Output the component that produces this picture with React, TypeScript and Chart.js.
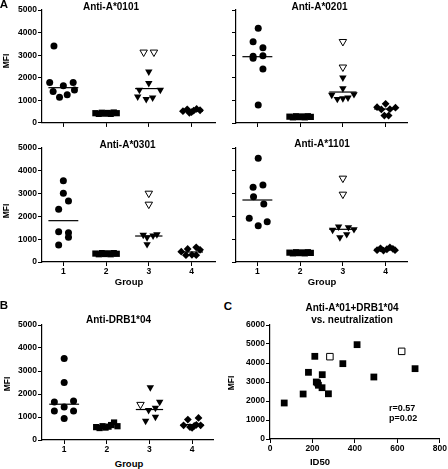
import React, { useEffect, useRef } from "react";
import { Chart, registerables } from "chart.js";

Chart.register(...registerables);

type Pt = [number, number]; // [offset from group centre, MFI]

const FONT = "'Liberation Sans', Arial, Helvetica, sans-serif";

// ---------- shared axis data ----------
const groups = [1, 2, 3, 4];
const mfiTicksMax = 5000;
const mfiStep = 1000;

// ---------- Panel A: Anti-A*0101 ----------
const a0101Group1: Pt[] = [[-0.22, 3410], [-0.32, 1790], [0, 1640], [0.23, 1790], [-0.24, 1390], [0.26, 1460], [-0.09, 1140], [0.09, 1250]];
const a0101Group2: Pt[] = [[-0.25, 430], [-0.17, 400], [-0.1, 450], [-0.03, 410], [0.04, 440], [0.11, 400], [0.18, 460], [0.25, 430]];
const a0101Group3: Pt[] = [[0, 2270], [0, 1755], [-0.22, 1460], [0.27, 1460], [-0.26, 1165], [-0.06, 1050], [0.09, 1120]];
const a0101Group3Open: Pt[] = [[-0.12, 3130], [0.12, 3130]];
const a0101Group4: Pt[] = [[-0.2, 520], [-0.1, 600], [-0.05, 450], [0.05, 540], [0.12, 620], [0.2, 560], [0, 480]];
const a0101Medians = [1560, 420, 1520, 520];

// ---------- Panel A: Anti-A*0201 ----------
const a0201Group1: Pt[] = [[0.02, 4190], [-0.1, 3600], [0.13, 3330], [-0.1, 2860], [-0.1, 2950], [0.13, 2980], [0.13, 2390], [0.02, 800]];
const a0201Group2: Pt[] = [[-0.25, 280], [-0.17, 250], [-0.1, 300], [-0.03, 260], [0.04, 290], [0.11, 250], [0.18, 300], [0.25, 270]];
const a0201Group3: Pt[] = [[0, 2006], [0, 1534], [-0.26, 1240], [-0.13, 1060], [0, 1090], [0.12, 1120], [0.26, 1270]];
const a0201Group3Open: Pt[] = [[0, 3600], [0, 2470]];
const a0201Group4: Pt[] = [[-0.2, 700], [0, 850], [0.23, 680], [-0.1, 600], [0.1, 610], [-0.03, 330], [0.07, 330]];
const a0201Medians = [2934, 270, 1370, 620];

// ---------- Panel A: Anti-A*0301 ----------
const a0301Group1: Pt[] = [[0, 3566], [0, 3010], [0.12, 2675], [-0.11, 2310], [-0.11, 1330], [0.12, 1287], [0.12, 1082], [-0.11, 746]];
const a0301Group2: Pt[] = [[-0.25, 370], [-0.17, 340], [-0.1, 390], [-0.03, 350], [0.04, 380], [0.11, 340], [0.18, 390], [0.25, 360]];
const a0301Group3: Pt[] = [[-0.13, 1184], [-0.04, 1082], [0.1, 1155], [0.19, 1213], [-0.04, 776]];
const a0301Group3Open: Pt[] = [[0, 3012], [0, 2530]];
const a0301Group4: Pt[] = [[-0.24, 452], [-0.09, 570], [0.01, 316], [0.11, 645], [0.2, 535], [-0.13, 300], [0.11, 300]];
const a0301Medians = [1813, 365, 1140, 439];

// ---------- Panel A: Anti-A*1101 ----------
const a1101Group1: Pt[] = [[0.02, 4548], [-0.1, 3276], [0.13, 3377], [-0.09, 2864], [0.15, 2544], [-0.19, 1916], [0.23, 1768], [0.02, 1592]];
const a1101Group2: Pt[] = [[-0.25, 410], [-0.17, 380], [-0.1, 430], [-0.03, 390], [0.04, 420], [0.11, 380], [0.18, 430], [0.25, 400]];
const a1101Group3: Pt[] = [[-0.24, 1404], [-0.1, 1548], [0.13, 1522], [0.26, 1434], [-0.07, 1082], [0.09, 1215]];
const a1101Group3Open: Pt[] = [[0, 3671], [0, 2969]];
const a1101Group4: Pt[] = [[-0.2, 520], [-0.12, 600], [-0.05, 500], [0.03, 560], [0.1, 640], [0.17, 580], [0.22, 520]];
const a1101Medians = [2719, 408, 1434, 555];

// ---------- Panel B: Anti-DRB1*04 ----------
const drbGroup1: Pt[] = [[0, 3548], [0, 2502], [-0.23, 1657], [0.22, 1700], [-0.23, 1264], [0, 1439], [0.22, 1264], [0, 933]];
const drbGroup2: Pt[] = [[-0.25, 560], [-0.17, 520], [-0.1, 600], [-0.03, 540], [0.04, 580], [0.1, 650], [0.17, 760], [0.25, 600]];
const drbGroup3: Pt[] = [[0.02, 2284], [0.24, 1657], [0.14, 1395], [-0.02, 1295], [-0.09, 828], [0.14, 1003]];
const drbGroup3Open: Pt[] = [[-0.21, 1543]];
const drbGroup4: Pt[] = [[-0.1, 889], [0.15, 959], [-0.2, 640], [0.05, 610], [-0.05, 560], [0.2, 640], [0.1, 660], [0, 530]];
const drbMedians = [1556, 567, 1325, 671];

// ---------- Panel C: Anti-A*01+DRB1*04 vs. neutralization ----------
const cFilledId50 = [67, 156, 181, 211, 218, 228, 224, 246, 245, 275, 343, 410, 489, 683];
const cFilledMfi = [1895, 2368, 3509, 4351, 3000, 2830, 2950, 3386, 2700, 2380, 3965, 4965, 3263, 3702];
const cOpenId50 = [282, 620];
const cOpenMfi = [4333, 4614];
const cXMax = 800;
const cXStep = 200;
const cYMax = 6000;

// ---------- styles / layout ----------
const medianHalfWidth = [0.35, 0.3, 0.32, 0.27];
const PAD_T = 8;

interface Area { l: number; r: number; t: number; b: number }
interface DotPanel {
  area: Area; xMin: number; xMax: number; yLabels: boolean; xLabels: boolean;
  g1: Pt[]; g2: Pt[]; g3: Pt[]; g3open: Pt[]; g4: Pt[]; medians: number[];
}

const panels: DotPanel[] = [
  { area: { l: 42, r: 215, t: 10, b: 123 }, xMin: 0.5, xMax: 4.55, yLabels: true, xLabels: false,
    g1: a0101Group1, g2: a0101Group2, g3: a0101Group3, g3open: a0101Group3Open, g4: a0101Group4, medians: a0101Medians },
  { area: { l: 236, r: 407, t: 10, b: 123 }, xMin: 0.5, xMax: 4.5, yLabels: false, xLabels: false,
    g1: a0201Group1, g2: a0201Group2, g3: a0201Group3, g3open: a0201Group3Open, g4: a0201Group4, medians: a0201Medians },
  { area: { l: 42, r: 215, t: 148, b: 262 }, xMin: 0.5, xMax: 4.55, yLabels: true, xLabels: true,
    g1: a0301Group1, g2: a0301Group2, g3: a0301Group3, g3open: a0301Group3Open, g4: a0301Group4, medians: a0301Medians },
  { area: { l: 236, r: 407, t: 148, b: 262 }, xMin: 0.5, xMax: 4.5, yLabels: false, xLabels: true,
    g1: a1101Group1, g2: a1101Group2, g3: a1101Group3, g3open: a1101Group3Open, g4: a1101Group4, medians: a1101Medians },
  { area: { l: 42, r: 213, t: 325, b: 440 }, xMin: 0.48, xMax: 4.49, yLabels: true, xLabels: true,
    g1: drbGroup1, g2: drbGroup2, g3: drbGroup3, g3open: drbGroup3Open, g4: drbGroup4, medians: drbMedians },
];

const tickFont = { family: FONT, size: 8.5, weight: "bold" as const };

function axisCommon() {
  return {
    grid: { drawOnChartArea: false, drawTicks: true, tickLength: 4, color: "#000", lineWidth: 1 },
    border: { display: true, color: "#000", width: 1.2 },
  };
}

function geometry(area: Area, yW: number, xH: number, padR: number) {
  const left = area.l - yW;
  const top = area.t - PAD_T;
  return { left, top, w: area.r + padR - left, h: area.b + xH - top };
}

function markerSet(data: { x: number; y: number }[], style: string, radius: number, rotation: number, open: boolean) {
  return {
    data, showLine: false, pointStyle: style, pointRadius: radius, pointHoverRadius: radius, pointRotation: rotation,
    pointBackgroundColor: open ? "#fff" : "#000", pointBorderColor: "#000", pointBorderWidth: open ? 1 : 0,
  };
}

function DotChart({ p }: { p: DotPanel }) {
  const ref = useRef<HTMLCanvasElement | null>(null);
  const yW = p.yLabels ? 42 : 12;
  const xH = p.xLabels ? 16 : 6;
  const g = geometry(p.area, yW, xH, 5);
  useEffect(() => {
    if (!ref.current) return;
    const at = (pts: Pt[], grp: number) => pts.map(([o, v]) => ({ x: grp + o, y: v }));
    const medians = p.medians.map((m, i) => ({
      data: [{ x: groups[i] - medianHalfWidth[i], y: m }, { x: groups[i] + medianHalfWidth[i], y: m }],
      showLine: true, pointRadius: 0, pointHoverRadius: 0, borderColor: "#000", borderWidth: 1.2, fill: false,
    }));
    const chart = new Chart(ref.current, {
      type: "scatter",
      data: {
        datasets: [
          markerSet(at(p.g1, 1), "circle", 3.5, 0, false),
          markerSet(at(p.g2, 2), "rect", 4.4, 0, false),
          markerSet(at(p.g3open, 3), "triangle", 4.3, 180, true),
          markerSet(at(p.g3, 3), "triangle", 4.3, 180, false),
          markerSet(at(p.g4, 4), "rectRot", 3.9, 0, false),
          ...medians,
        ] as any,
      },
      options: {
        animation: false, responsive: false, devicePixelRatio: 1, events: [],
        layout: { autoPadding: false, padding: { top: PAD_T, right: 5, left: 0, bottom: 0 } },
        plugins: { legend: { display: false }, tooltip: { enabled: false }, title: { display: false } },
        scales: {
          x: {
            type: "linear", min: p.xMin, max: p.xMax, ...axisCommon(),
            afterBuildTicks: (s: any) => { s.ticks = groups.map((v) => ({ value: v })); },
            afterFit: (s: any) => { s.height = xH; },
            ticks: { display: p.xLabels, color: "#000", font: tickFont, padding: 1, maxRotation: 0, autoSkip: false, callback: (v: any) => String(v) },
          },
          y: {
            type: "linear", min: 0, max: mfiTicksMax, ...axisCommon(),
            afterFit: (s: any) => { s.width = yW; },
            ticks: { display: p.yLabels, stepSize: mfiStep, color: "#000", font: tickFont, padding: 1, callback: (v: any) => String(v) },
          },
        },
      } as any,
    });
    return () => chart.destroy();
  }, [p]);
  return <canvas ref={ref} width={g.w} height={g.h} style={{ position: "absolute", left: g.left, top: g.top, width: g.w, height: g.h }} />;
}

function CorrChart() {
  const ref = useRef<HTMLCanvasElement | null>(null);
  const area: Area = { l: 270, r: 440, t: 325, b: 439 };
  const g = geometry(area, 42, 16, 8);
  useEffect(() => {
    if (!ref.current) return;
    const filled = cFilledId50.map((x, i) => ({ x, y: cFilledMfi[i] }));
    const open = cOpenId50.map((x, i) => ({ x, y: cOpenMfi[i] }));
    const chart = new Chart(ref.current, {
      type: "scatter",
      data: {
        datasets: [
          markerSet(open, "rect", 4.6, 0, true),
          markerSet(filled, "rect", 4.8, 0, false),
        ] as any,
      },
      options: {
        animation: false, responsive: false, devicePixelRatio: 1, events: [],
        layout: { autoPadding: false, padding: { top: PAD_T, right: 8, left: 0, bottom: 0 } },
        plugins: { legend: { display: false }, tooltip: { enabled: false } },
        scales: {
          x: {
            type: "linear", min: 0, max: cXMax, ...axisCommon(),
            afterFit: (s: any) => { s.height = 16; },
            ticks: { stepSize: cXStep, color: "#000", font: tickFont, padding: 1, maxRotation: 0, callback: (v: any) => String(v) },
          },
          y: {
            type: "linear", min: 0, max: cYMax, ...axisCommon(),
            afterFit: (s: any) => { s.width = 42; },
            ticks: { stepSize: 1000, color: "#000", font: tickFont, padding: 1, callback: (v: any) => String(v) },
          },
        },
      } as any,
    });
    return () => chart.destroy();
  }, []);
  return <canvas ref={ref} width={g.w} height={g.h} style={{ position: "absolute", left: g.left, top: g.top, width: g.w, height: g.h }} />;
}

function Txt({ x, y, size, children, rotate, align }: { x: number; y: number; size: number; children: React.ReactNode; rotate?: boolean; align?: "left" | "center" }) {
  const tx = align === "left" ? "0" : "-50%";
  return (
    <div style={{
      position: "absolute", left: x, top: y, fontFamily: FONT, fontWeight: "bold", fontSize: size, lineHeight: 1,
      whiteSpace: "nowrap", color: "#000", transform: `translate(${tx}, -50%)${rotate ? " rotate(-90deg)" : ""}`,
      transformOrigin: rotate ? "center" : undefined,
    }}>{children}</div>
  );
}

export default function App() {
  return (
    <div style={{ position: "absolute", left: 0, top: 0, width: 448, height: 469, overflow: "hidden", background: "#fff" }}>
      {panels.map((p, i) => <DotChart key={i} p={p} />)}
      <CorrChart />
      <Txt x={4} y={4.5} size={11.5}>A</Txt>
      <Txt x={4} y={306} size={11.5}>B</Txt>
      <Txt x={228} y={307} size={11.5}>C</Txt>
      <Txt x={111} y={6.5} size={10}>Anti-A*0101</Txt>
      <Txt x={319.5} y={6.5} size={10}>Anti-A*0201</Txt>
      <Txt x={127.5} y={145} size={10}>Anti-A*0301</Txt>
      <Txt x={322} y={144.2} size={10}>Anti-A*1101</Txt>
      <Txt x={118.5} y={320} size={10}>Anti-DRB1*04</Txt>
      <Txt x={352} y={307.5} size={10}>Anti-A*01+DRB1*04</Txt>
      <Txt x={352} y={319.5} size={10}>vs. neutralization</Txt>
      <Txt x={6} y={61} size={8.5} rotate>MFI</Txt>
      <Txt x={6} y={211} size={8.5} rotate>MFI</Txt>
      <Txt x={7} y={384} size={8.5} rotate>MFI</Txt>
      <Txt x={231} y={383} size={8.5} rotate>MFI</Txt>
      <Txt x={129} y={282} size={9.5}>Group</Txt>
      <Txt x={322} y={282} size={9.5}>Group</Txt>
      <Txt x={129} y={463.5} size={9.5}>Group</Txt>
      <Txt x={320} y={461.5} size={9.5}>ID50</Txt>
      <Txt x={389} y={408.3} size={9} align="left">r=0.57</Txt>
      <Txt x={389} y={418.3} size={9} align="left">p=0.02</Txt>
    </div>
  );
}
